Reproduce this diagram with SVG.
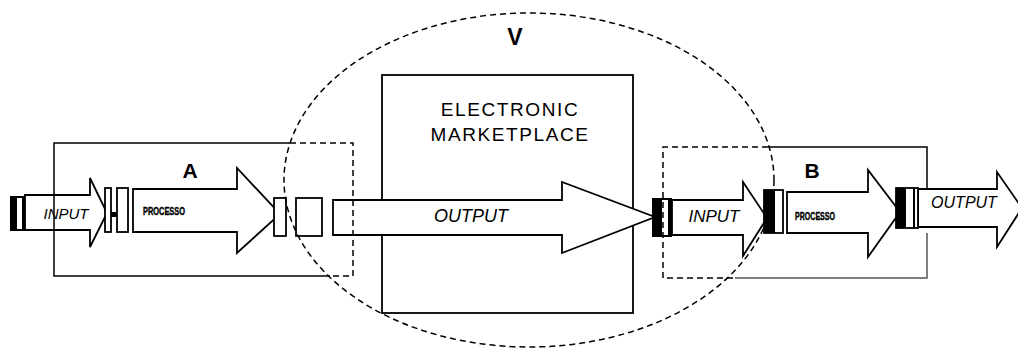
<svg xmlns="http://www.w3.org/2000/svg" width="1018" height="350" viewBox="0 0 1018 350">
<style>
.ar{fill:#fff;stroke:#000;stroke-width:1.8;stroke-linejoin:miter}
.bx{fill:#fff;stroke:#000;stroke-width:1.8}
.blk{fill:#000}
.wh{fill:#fff}
.ln{fill:none;stroke:#000;stroke-width:1.5}
.dash{fill:none;stroke:#000;stroke-width:1.5;stroke-dasharray:6 4}
.gray{fill:none;stroke:#555;stroke-width:1.5}
.it{font-family:"Liberation Sans",Arial,sans-serif;font-style:italic;fill:#000}
.lbl{font-family:"Liberation Sans",Arial,sans-serif;font-weight:bold;fill:#000}
.pr{font-family:"Liberation Sans",Arial,sans-serif;font-weight:bold;font-size:10px;fill:#000;stroke:#000;stroke-width:0.4}
.mk{font-family:"Liberation Sans",Arial,sans-serif;font-size:19px;letter-spacing:1.6px;fill:#000}
</style>
<rect width="1018" height="350" fill="#fff"/>

<g id="market">
  <rect x="382" y="75" width="251" height="238" class="bx"/>
  <text x="510" y="116" text-anchor="middle" class="mk">ELECTRONIC</text>
  <text x="510" y="141" text-anchor="middle" class="mk">MARKETPLACE</text>
</g>

<g id="connectors">
  <!-- A: input arrow -->
  <path class="ar" d="M25,195 H90 V178 L107,213 L90,247 V230 H25 Z"/>
  <rect x="10" y="196" width="15" height="35" class="blk"/>
  <rect x="17" y="198" width="5" height="31" class="wh"/>
  <!-- A: processo arrow -->
  <path class="ar" d="M133,189 H237 V168 L280,214 L237,253 V232 H133 Z"/>
  <!-- A: output arrow -->
  <path class="ar" d="M333,200 H562 V182 L655,217 L562,253 V235 H333 Z"/>
  <!-- B: input arrow -->
  <path class="ar" d="M672,200 H743 V182 L767,218 L743,256 V235 H672 Z"/>
  <!-- B: processo arrow -->
  <path class="ar" d="M787,192 H868 V170 L900,212 L868,257 V233 H787 Z"/>
  <!-- B: output arrow -->
  <path class="ar" d="M918,189 H997 V172 L1022,208 L997,247 V227 H918 Z"/>
</g>

<g id="nodeA">
  <rect x="105" y="188" width="6" height="44" class="bx"/>
  <rect x="117" y="188" width="11" height="44" class="bx"/>
  <rect x="111" y="212" width="6" height="5" class="blk"/>
  <rect x="274" y="198" width="12" height="38" class="bx"/>
  <rect x="296" y="198" width="26" height="38" class="bx"/>
  <text x="66" y="219" text-anchor="middle" class="it" font-size="15" fill="#333">INPUT</text>
  <text x="143" y="215" class="pr" textLength="42" lengthAdjust="spacingAndGlyphs">PROCESSO</text>
  <text x="190" y="178" text-anchor="middle" class="lbl" font-size="21">A</text>
  <path class="ln" d="M290,143 H54 V276 H330"/>
  <path class="dash" d="M290,143 H353 V276 H330"/>
</g>

<g id="outputText">
  <text x="471" y="222" text-anchor="middle" class="it" font-size="18">OUTPUT</text>
</g>

<g id="nodeB">
  <rect x="652" y="198" width="20" height="39" class="blk"/>
  <rect x="662" y="200" width="6" height="35" class="wh"/>
  <rect x="764" y="190" width="19" height="43" class="bx"/>
  <rect x="764" y="190" width="11" height="43" class="blk"/>
  <rect x="896" y="188" width="22" height="40" class="bx"/>
  <rect x="896" y="188" width="10" height="40" class="blk"/>
  <rect x="913" y="188" width="2" height="40" class="blk"/>
  <text x="714" y="222" text-anchor="middle" class="it" font-size="17">INPUT</text>
  <text x="795" y="220" class="pr" textLength="40" lengthAdjust="spacingAndGlyphs">PROCESSO</text>
  <text x="964" y="208" text-anchor="middle" class="it" font-size="16">OUTPUT</text>
  <text x="812" y="178" text-anchor="middle" class="lbl" font-size="21">B</text>
  <path class="dash" d="M768,147 H663 V278 H735"/>
  <path class="ln" d="M768,147 H927 V190"/>
  <path class="gray" d="M735,278 H927 V233"/>
</g>

<g id="nodeV">
  <ellipse cx="529" cy="180" rx="245" ry="167" class="dash"/>
  <text x="515" y="45" text-anchor="middle" class="lbl" font-size="23">V</text>
</g>
</svg>
